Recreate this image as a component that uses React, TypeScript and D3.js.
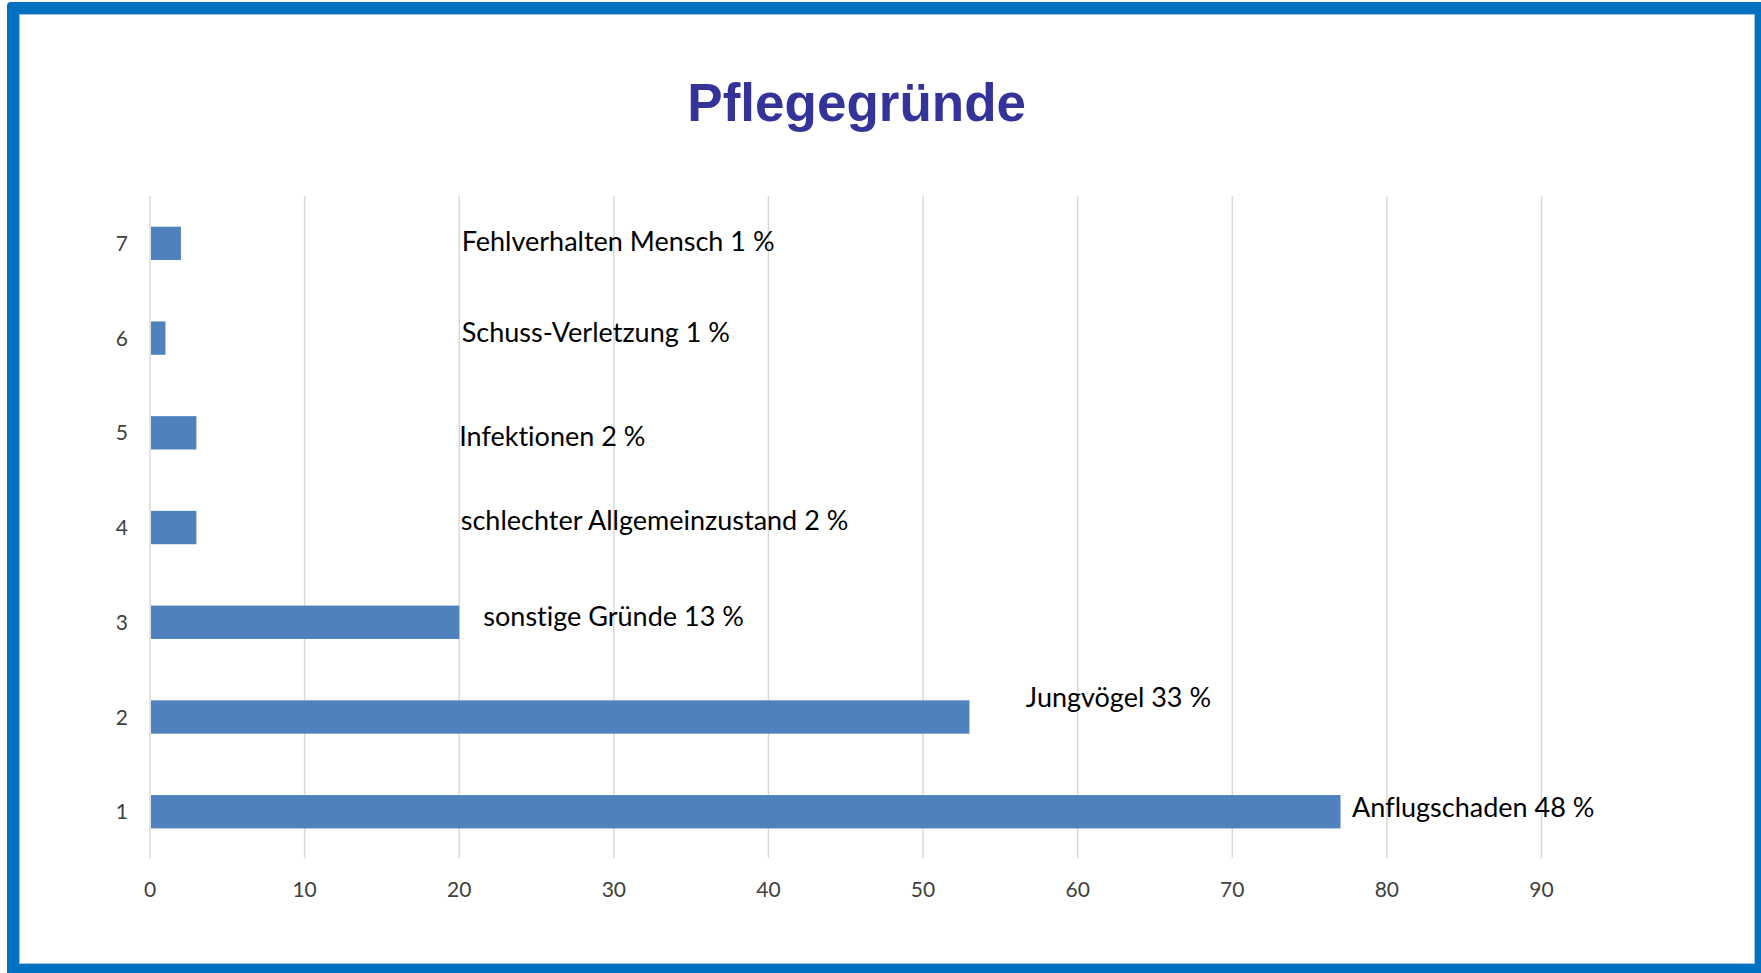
import React from "react";
import * as d3 from "d3";

// ---- data ----
const categories: string[] = ["1", "2", "3", "4", "5", "6", "7"];
const values: number[] = [77, 53, 20, 3, 3, 1, 2];
const labelTexts: string[] = [
  "Anflugschaden 48 %",
  "Jungvögel 33 %",
  "sonstige Gründe 13 %",
  "schlechter Allgemeinzustand 2 %",
  "Infektionen 2 %",
  "Schuss-Verletzung 1 %",
  "Fehlverhalten Mensch 1 %",
];
// manually placed data labels (x in axis units)
const labelAtValue: number[] = [77.75, 56.65, 21.56, 20.1, 20.0, 20.16, 20.16];
const xTicks: number[] = [0, 10, 20, 30, 40, 50, 60, 70, 80, 90];
const title = "Pflegegründe";

// ---- layout ----
const W = 1761;
const H = 973;
const labelShift: number[] = [5, -10, 3.7, 2.5, 13.3, 3.8, 7.2];

export default function App() {
  const x = d3.scaleLinear().domain([0, 90]).range([150, 1541.5]);
  const y = d3
    .scaleBand<string>()
    .domain([...categories].reverse())
    .range([196, 859.1])
    .paddingInner(0.648)
    .paddingOuter(0.324);
  const bw = y.bandwidth();
  const font = "Lato, 'Open Sans', sans-serif";

  return (
    <svg
      width={W}
      height={H}
      style={{ position: "fixed", left: 0, top: 0, background: "#fff" }}
    >
      {/* frame */}
      <rect x={7} y={2} width={W + 20} height={H + 20} rx={4} fill="#0070C0" />
      <rect x={19} y={14} width={1736} height={950} fill="#ffffff" />
      <rect
        x={19.5}
        y={14.5}
        width={1735}
        height={949}
        fill="none"
        stroke="#9DC3E6"
        strokeWidth={1}
      />

      {/* title */}
      <text
        x={856.7}
        y={121}
        textAnchor="middle"
        fontFamily="'Liberation Sans', Arial, sans-serif"
        fontWeight="bold"
        fontSize={53}
        fill="#333399"
      >
        {title}
      </text>

      {/* gridlines */}
      {xTicks.map((t) => (
        <line
          key={"g" + t}
          x1={x(t)}
          x2={x(t)}
          y1={196}
          y2={858}
          stroke="#D9D9D9"
          strokeWidth={1.5}
        />
      ))}

      {/* bars */}
      {categories.map((c, i) => (
        <rect
          key={"b" + c}
          x={x(0) + 1}
          y={y(c)!}
          width={x(values[i]) - x(0) - 1}
          height={bw}
          fill="#4F81BD"
        />
      ))}

      {/* x tick labels */}
      {xTicks.map((t) => (
        <text
          key={"t" + t}
          x={x(t)}
          y={897}
          textAnchor="middle"
          fontFamily={font}
          fontSize={21}
          fill="#404040"
        >
          {t}
        </text>
      ))}

      {/* category labels */}
      {categories.map((c) => (
        <text
          key={"c" + c}
          x={128}
          y={y(c)! + bw / 2}
          dy="0.36em"
          textAnchor="end"
          fontFamily={font}
          fontSize={21}
          fill="#404040"
        >
          {c}
        </text>
      ))}

      {/* data labels */}
      {categories.map((c, i) => (
        <text
          key={"l" + c}
          x={x(labelAtValue[i])}
          y={y(c)! + bw / 2 + labelShift[i]}
          fontFamily={font}
          fontSize={27}
          fill="#000000"
          style={{ fontVariantLigatures: "none" }}
        >
          {labelTexts[i]}
        </text>
      ))}
    </svg>
  );
}
